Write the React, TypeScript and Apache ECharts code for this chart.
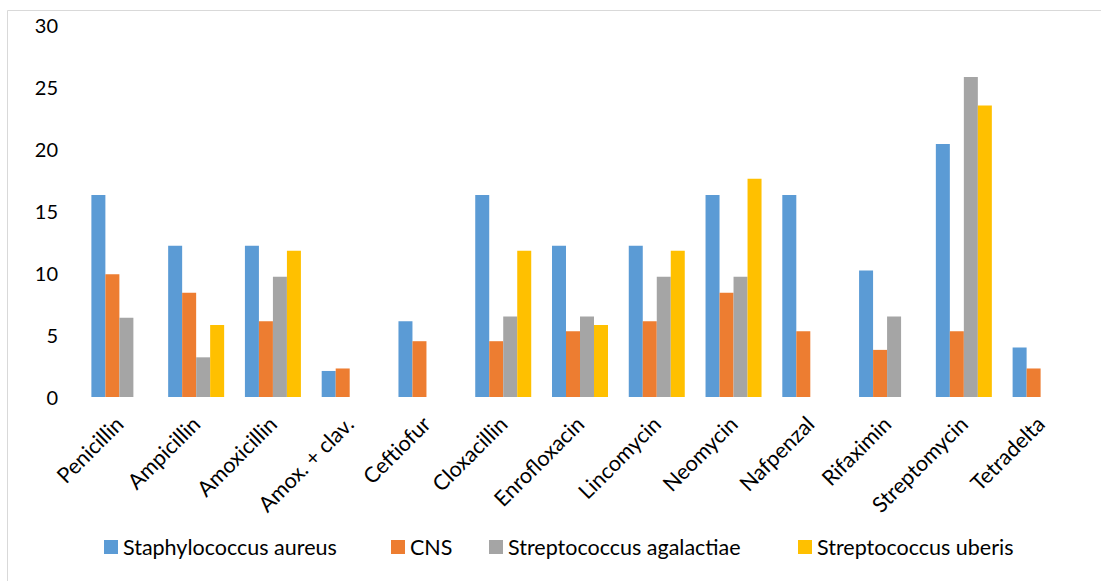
import React, { useEffect, useRef } from "react";
import * as echarts from "echarts";

const categories = [
  "Penicillin", "Ampicillin", "Amoxicillin", "Amox. + clav.", "Ceftiofur", "Cloxacillin",
  "Enrofloxacin", "Lincomycin", "Neomycin", "Nafpenzal", "Rifaximin", "Streptomycin", "Tetradelta",
];
const seriesNames = ["Staphylococcus aureus", "CNS", "Streptococcus agalactiae", "Streptococcus uberis"];
const staphAureus = [16.3, 12.2, 12.2, 2.1, 6.1, 16.3, 12.2, 12.2, 16.3, 16.3, 10.2, 20.4, 4.0];
const cns = [9.9, 8.4, 6.1, 2.3, 4.5, 4.5, 5.3, 6.1, 8.4, 5.3, 3.8, 5.3, 2.3];
const strepAgalactiae = [6.4, 3.2, 9.7, null, null, 6.5, 6.5, 9.7, 9.7, null, 6.5, 25.8, null];
const strepUberis = [null, 5.8, 11.8, null, null, 11.8, 5.8, 11.8, 17.6, null, null, 23.5, null];
const colors = ["#5B9BD5", "#ED7D31", "#A5A5A5", "#FFC000"];
const yTicks = [0, 5, 10, 15, 20, 25, 30];
const legendLefts = [104, 391, 489, 798];

export default function App() {
  const ref = useRef<HTMLDivElement>(null);
  useEffect(() => {
    document.body.style.margin = "0";
    const chart = echarts.init(ref.current!, null, { renderer: "svg" });
    const font = "Lato, 'Open Sans', sans-serif";
    const data = [staphAureus, cns, strepAgalactiae, strepUberis];
    chart.setOption({
      animation: false,
      textStyle: { fontFamily: font },
      color: colors,
      graphic: [
        {
          type: "rect",
          shape: { x: 7.5, y: 10.5, width: 1110, height: 590 },
          style: { fill: "none", stroke: "#d9d9d9", lineWidth: 1 },
          silent: true,
        },
      ],
      grid: { left: 81, right: 22, top: 25, bottom: 184, containLabel: false },
      legend: seriesNames.map((name, i) => ({
        left: legendLefts[i],
        top: 536,
        padding: 0,
        itemWidth: 14,
        itemHeight: 14,
        itemGap: 0,
        icon: "rect",
        textStyle: { fontSize: 21.5, color: "#000", fontFamily: font, padding: [0, 0, 0, 0] },
        data: [name],
      })),
      xAxis: {
        type: "category",
        data: categories,
        axisLine: { show: false },
        axisTick: { show: false },
        axisLabel: { rotate: 45, fontSize: 21.5, color: "#000", margin: 23, interval: 0, fontFamily: font },
      },
      yAxis: {
        type: "value",
        min: yTicks[0],
        max: yTicks[yTicks.length - 1],
        interval: 5,
        splitLine: { show: false },
        axisLine: { show: false },
        axisTick: { show: false },
        axisLabel: { fontSize: 20, color: "#000", margin: 23, fontFamily: font },
      },
      series: seriesNames.map((name, i) => ({
        name,
        type: "bar",
        data: data[i],
        barWidth: 14,
        barGap: "0%",
        itemStyle: { color: colors[i] },
      })),
    });
    return () => chart.dispose();
  }, []);
  return <div ref={ref} style={{ width: 1101, height: 581 }} />;
}
